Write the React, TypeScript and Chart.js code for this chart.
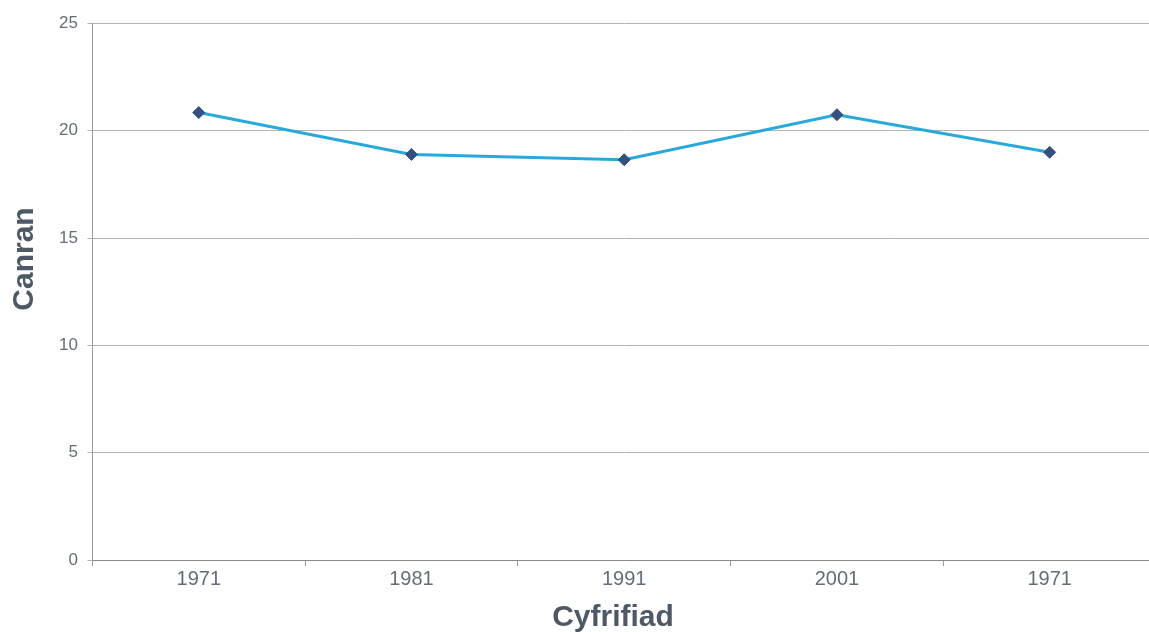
import React, { useEffect, useRef } from "react";
import { Chart, registerables } from "chart.js";

Chart.register(...registerables);

const categories = ["1971", "1981", "1991", "2001", "1971"];
const values = [20.85, 18.9, 18.65, 20.75, 19.0];
const yTicks = [0, 5, 10, 15, 20, 25];
const yTitle = "Canran";
const xTitle = "Cyfrifiad";

const FONT = "Liberation Sans, Arial, sans-serif";

const axisTitlesPlugin = {
  id: "axisTitlesPlugin",
  afterDraw(chart: any) {
    const ctx = chart.ctx;
    ctx.save();
    ctx.font = `bold 30px ${FONT}`;
    ctx.fillStyle = "#4d5966";
    ctx.textAlign = "center";
    ctx.textBaseline = "alphabetic";
    ctx.fillText(xTitle, 613, 626);
    ctx.translate(24.5, 259);
    ctx.rotate(-Math.PI / 2);
    ctx.textBaseline = "middle";
    ctx.fillText(yTitle, 0, 0);
    ctx.restore();
  },
};

export default function App() {
  const ref = useRef<HTMLCanvasElement | null>(null);
  useEffect(() => {
    document.body.style.margin = "0";
    const ctx = ref.current!;
    const chart = new Chart(ctx, {
      type: "line",
      data: {
        labels: categories,
        datasets: [
          {
            data: values,
            borderColor: "#28a9dc",
            borderWidth: 3,
            pointStyle: "rectRot",
            pointRadius: 6,
            pointBackgroundColor: "#34507f",
            pointBorderColor: "#34507f",
            pointBorderWidth: 1,
            tension: 0,
            clip: false,
          },
        ],
      },
      options: {
        animation: false,
        responsive: false,
        layout: { autoPadding: false, padding: { top: 23.5, right: 0, bottom: 40, left: 49.5 } },
        plugins: { legend: { display: false }, tooltip: { enabled: false } },
        scales: {
          x: {
            offset: true,
            afterFit: (scale: any) => {
              scale.paddingRight = 0;
              scale.paddingLeft = 0;
            },
            grid: {
              offset: true,
              drawOnChartArea: false,
              drawTicks: true,
              tickLength: 6,
              color: "#9a9a9a",
            },
            border: { color: "#8a8a8a", width: 1 },
            ticks: {
              color: "#656d78",
              font: { family: FONT, size: 20 },
              padding: 1,
            },
          },
          y: {
            min: 0,
            max: 25,
            afterBuildTicks: (axis: any) => {
              axis.ticks = yTicks.map((v) => ({ value: v }));
            },
            grid: {
              color: "#b4b4b4",
              tickLength: 5,
              lineWidth: 1,
            },
            border: { color: "#9a9a9a", width: 1 },
            ticks: {
              color: "#656d78",
              font: { family: FONT, size: 17 },
              padding: 9.5,
            },
          },
        },
      },
      plugins: [axisTitlesPlugin],
    });
    return () => chart.destroy();
  }, []);
  return (
    <div style={{ width: 1149, height: 632, overflow: "hidden" }}>
      <canvas ref={ref} width={1156} height={632} style={{ display: "block" }} />
    </div>
  );
}
